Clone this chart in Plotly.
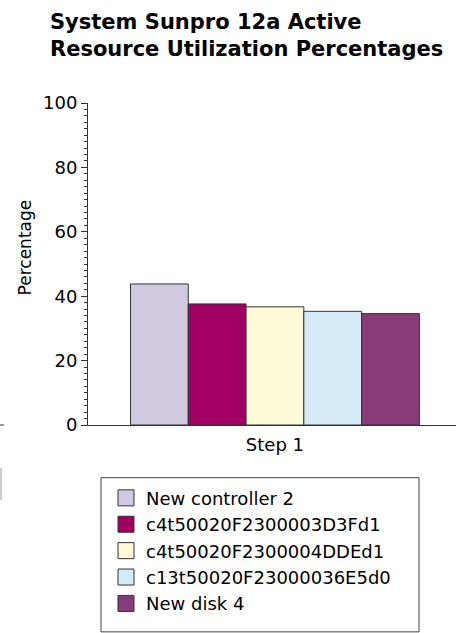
import plotly.graph_objects as go

# ---- data ----
categories = ["Step 1"]
series_names = [
    "New controller 2",
    "c4t50020F2300003D3Fd1",
    "c4t50020F2300004DDEd1",
    "c13t50020F23000036E5d0",
    "New disk 4",
]
series_values = [[43.8], [37.6], [36.7], [35.3], [34.6]]
series_colors = ["#D1C9E0", "#A10062", "#FFFBD8", "#D6EAF8", "#893A78"]
y_tick_vals = [0, 20, 40, 60, 80, 100]
y_tick_text = ["0", "20", "40", "60", "80", "100"]
y_mid_ticks = [10, 30, 50, 70, 90]
title_lines = ["System Sunpro 12a Active", "Resource Utilization Percentages"]
y_title = "Percentage"

FONT = "DejaVu Sans, Liberation Sans, Arial, sans-serif"
W, H = 467, 633
ML, MR, MT, MB = 88, 11, 103, 200
PW, PH = W - ML - MR, H - MT - MB


def px(x):
    return (x - ML) / PW


def py(y):
    return (H - MB - y) / PH


fig = go.Figure()
for name, vals, col in zip(series_names, series_values, series_colors):
    fig.add_trace(go.Bar(
        x=categories, y=vals, name=name,
        marker=dict(color=col, line=dict(color="#333333", width=1)),
        showlegend=False,
    ))
# legend entries with larger square swatches
for name, col in zip(series_names, series_colors):
    fig.add_trace(go.Scatter(
        x=[None], y=[None], mode="markers", name=name,
        marker=dict(symbol="square", size=16, color=col,
                    line=dict(color="#333333", width=1)),
        showlegend=True,
    ))

fig.update_layout(
    width=W, height=H,
    margin=dict(l=ML, r=MR, t=MT, b=MB, pad=0),
    paper_bgcolor="white", plot_bgcolor="white",
    barmode="group", bargap=0.215, bargroupgap=0,
    font=dict(family=FONT, color="black"),
    xaxis=dict(
        type="category", range=[-0.508, 0.492],
        showline=True, linecolor="#333333", linewidth=1,
        ticks="", showgrid=False, zeroline=False,
        ticklabelstandoff=3,
        tickfont=dict(size=18, family=FONT, color="black"),
    ),
    yaxis=dict(
        range=[0, 100], tickvals=y_tick_vals, ticktext=y_tick_text,
        ticks="outside", ticklen=6, tickcolor="#333333", tickwidth=1,
        showline=True, linecolor="#333333", linewidth=1,
        showgrid=False, zeroline=False,
        tickfont=dict(size=18, family=FONT, color="black"),
        minor=dict(dtick=2, ticks="outside", ticklen=3, tickcolor="#333333",
                   showgrid=False),
    ),
    yaxis2=dict(
        overlaying="y", side="left", range=[0, 100],
        tickvals=y_mid_ticks, ticks="outside", ticklen=4.5,
        tickcolor="#333333", showticklabels=False, showline=False,
        showgrid=False, zeroline=False,
    ),
    legend=dict(
        x=px(106), y=py(489), xanchor="left", yanchor="top",
        font=dict(size=18, family=FONT, color="black"),
        bgcolor="rgba(0,0,0,0)", borderwidth=0,
    ),
    showlegend=True,
)

annotations = [
    dict(text="<br>".join(title_lines), x=px(48), y=py(34),
         xref="paper", yref="paper", align="left",
         xanchor="left", yanchor="middle", showarrow=False,
         font=dict(size=21, family=FONT, color="black", weight="bold")),
    dict(text=y_title, x=px(25), y=py(251), xref="paper", yref="paper",
         xanchor="center", yanchor="middle", showarrow=False, textangle=-90,
         font=dict(size=17, family=FONT, color="black")),
]
fig.update_layout(annotations=annotations)

shapes = [
    # legend frame
    dict(type="rect", xref="paper", yref="paper",
         x0=px(101), x1=px(419), y0=py(487), y1=py(645),
         line=dict(color="#444444", width=1), fillcolor="rgba(0,0,0,0)"),
    # small crop remnants at left edge
    dict(type="line", xref="paper", yref="paper",
         x0=px(0), x1=px(4), y0=py(433), y1=py(433),
         line=dict(color="#333333", width=1)),
    dict(type="line", xref="paper", yref="paper",
         x0=px(1), x1=px(1), y0=py(477), y1=py(510),
         line=dict(color="#999999", width=1)),
]
fig.update_layout(shapes=shapes)

fig.write_html("out.html")
